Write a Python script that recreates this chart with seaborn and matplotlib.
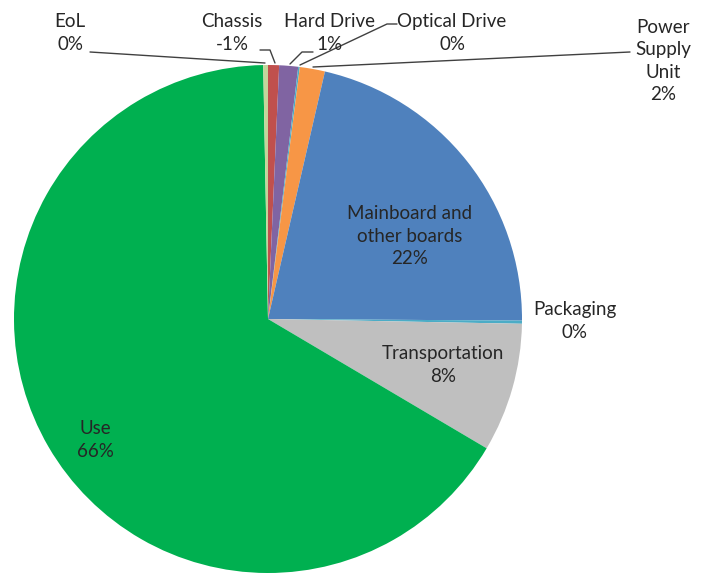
import matplotlib
matplotlib.use("Agg")
import matplotlib.pyplot as plt
import seaborn as sns

# data (clockwise from 12 o'clock)
parts = ["Chassis", "Hard Drive", "Optical Drive", "Power\nSupply\nUnit",
         "Mainboard and\nother boards", "Packaging", "Transportation", "Use", "EoL"]
shares = [0.7, 1.2, 0.1, 1.6, 21.5, 0.2, 8.2, 66.2, 0.3]
shown = ["-1%", "1%", "0%", "2%", "22%", "0%", "8%", "66%", "0%"]
colors = ["#C0504D", "#8064A2", "#4BACC6", "#F79646", "#4F81BD",
          "#4BACC6", "#BFBFBF", "#00B050", "#C3D69B"]

# label centres and leader lines, in pixels of the 711x576 image
label_px = [(232, 33), (330, 33), (452, 33), (663, 61), (410, 236),
            (575, 321), (443, 365), (95, 440), (70, 33)]
leaders_px = {
    "Chassis": [(260, 50), (270, 50), (275, 63)],
    "Hard Drive": [(313, 52), (302, 52), (290, 64)],
    "Optical Drive": [(397, 24), (387, 24), (300, 65)],
    "Power\nSupply\nUnit": [(630, 52), (313, 67)],
    "EoL": [(90, 52), (265, 63)],
}

sns.set_style("white")
plt.rcParams['font.family'] = ['Lato', 'DejaVu Sans']

cx, cy, r = 268, 319, 254
def to_data(px, py):
    return (px - cx) / r, (cy - py) / r

fig = plt.figure(figsize=(7.11, 5.76), dpi=100)
ax = fig.add_axes([(cx - r) / 711, (576 - cy - r) / 576, 2 * r / 711, 2 * r / 576])
ax.pie(shares, colors=colors, startangle=90, counterclock=False, radius=1,
       wedgeprops=dict(linewidth=0))
ax.set_xlim(-1, 1)
ax.set_ylim(-1, 1)
ax.set_aspect("equal")
ax.axis("off")

for name, pct, (px, py) in zip(parts, shown, label_px):
    x, y = to_data(px, py)
    ax.text(x, y, name + "\n" + pct, ha="center", va="center", fontsize=13.5,
            linespacing=1.4, color="#262626", clip_on=False)

for name, pts in leaders_px.items():
    xs, ys = zip(*[to_data(px, py) for px, py in pts])
    ax.plot(xs, ys, color="#404040", linewidth=1, clip_on=False)

fig.savefig("out.png", dpi=100)
